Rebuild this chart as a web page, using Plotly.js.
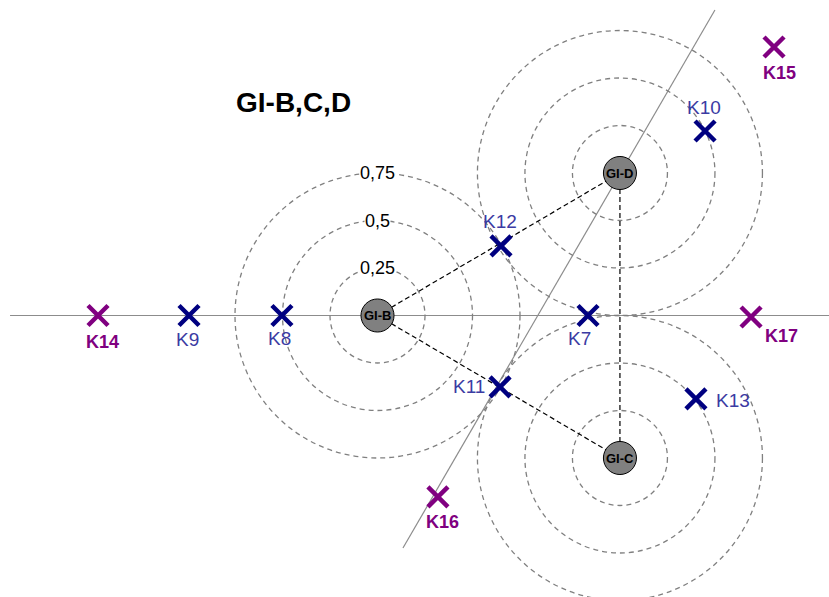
<!DOCTYPE html>
<html>
<head>
<meta charset="utf-8">
<script src="https://cdn.plot.ly/plotly-3.0.1.min.js"></script>
<style>html,body{margin:0;padding:0;background:#fff;}#chart{width:829px;height:597px;}</style>
</head>
<body>
<div id="chart"></div>
<script>
// ---- data (units: GI-B at origin) ----
const nodeNames = ['GI-B', 'GI-C', 'GI-D'];
const nodeX = [0, 1.276, 1.276];
const nodeY = [0, -0.75, 0.75];
const ringRadii = [0.25, 0.5, 0.75];
const ringLabels = ['0,25', '0,5', '0,75'];

// connector pairs (indices into node arrays)
const linkFrom = [0, 0, 2];
const linkTo = [2, 1, 1];

// internal points (navy)
const innerNames = ['K7', 'K8', 'K9', 'K10', 'K11', 'K12', 'K13'];
const innerX = [1.108, -0.503, -0.992, 1.724, 0.645, 0.650, 1.676];
const innerY = [0.0, 0.0, 0.0, 0.971, -0.376, 0.366, -0.439];

// outer points (purple)
const outerNames = ['K14', 'K15', 'K16', 'K17'];
const outerX = [-1.471, 2.087, 0.318, 1.966];
const outerY = [0.0, 1.413, -0.955, -0.008];

// reference lines
const axisLineX = [-1.934, 2.40];
const axisLineY = [0, 0];
const slantLineX = [0.134, 1.776];
const slantLineY = [-1.224, 1.608];

const titleText = 'GI-B,C,D';

// ---- label offsets (px) ----
const innerLabelShift = {
  'K7': [-9, -23], 'K8': [-2, -23], 'K9': [-2, -24], 'K10': [-1, 24],
  'K11': [-31, 0], 'K12': [-1, 24], 'K13': [37, -2]
};
const outerLabelShift = {
  'K14': [4, -26], 'K15': [5, -26], 'K16': [5, -25], 'K17': [30, -19]
};

const shapes = [];
// gray reference lines
shapes.push({type: 'line', xref: 'x', yref: 'y', x0: axisLineX[0], y0: axisLineY[0], x1: axisLineX[1], y1: axisLineY[1],
  line: {color: '#8c8c8c', width: 1.2}, layer: 'below'});
shapes.push({type: 'line', xref: 'x', yref: 'y', x0: slantLineX[0], y0: slantLineY[0], x1: slantLineX[1], y1: slantLineY[1],
  line: {color: '#8c8c8c', width: 1.2}, layer: 'below'});
// dashed rings
for (let n = 0; n < nodeNames.length; n++) {
  for (const r of ringRadii) {
    shapes.push({type: 'circle', xref: 'x', yref: 'y',
      x0: nodeX[n] - r, x1: nodeX[n] + r, y0: nodeY[n] - r, y1: nodeY[n] + r,
      line: {color: '#808080', width: 1.3, dash: '5px,4px'}, layer: 'below'});
  }
}
// black dashed connectors
for (let i = 0; i < linkFrom.length; i++) {
  shapes.push({type: 'line', xref: 'x', yref: 'y',
    x0: nodeX[linkFrom[i]], y0: nodeY[linkFrom[i]], x1: nodeX[linkTo[i]], y1: nodeY[linkTo[i]],
    line: {color: '#000', width: 1.2, dash: '5px,3px'}, layer: 'below'});
}
// node discs
const nodeR = 0.087;
for (let n = 0; n < nodeNames.length; n++) {
  shapes.push({type: 'circle', xref: 'x', yref: 'y',
    x0: nodeX[n] - nodeR, x1: nodeX[n] + nodeR, y0: nodeY[n] - nodeR, y1: nodeY[n] + nodeR,
    fillcolor: '#808080', line: {color: '#000', width: 1}, layer: 'below'});
}

const annotations = [];
const FONT = 'Liberation Sans, Arial, sans-serif';
annotations.push({x: -0.44, y: 1.12, xref: 'x', yref: 'y', text: '<b>' + titleText + '</b>', showarrow: false,
  font: {family: FONT, size: 28, color: '#000'}});
for (let n = 0; n < nodeNames.length; n++) {
  annotations.push({x: nodeX[n], y: nodeY[n], xref: 'x', yref: 'y', text: '<b>' + nodeNames[n] + '</b>', showarrow: false,
    font: {family: FONT, size: 13, color: '#000'}});
}
for (let i = 0; i < ringRadii.length; i++) {
  annotations.push({x: nodeX[0], y: nodeY[0] + ringRadii[i], xref: 'x', yref: 'y', text: ringLabels[i], showarrow: false,
    bgcolor: '#ffffff', borderpad: 0, font: {family: FONT, size: 18, color: '#000'}});
}
for (let i = 0; i < innerNames.length; i++) {
  const s = innerLabelShift[innerNames[i]];
  annotations.push({x: innerX[i], y: innerY[i], xref: 'x', yref: 'y', text: innerNames[i], showarrow: false,
    xshift: s[0], yshift: s[1], font: {family: FONT, size: 19, color: '#3b3ba3'}});
}
for (let i = 0; i < outerNames.length; i++) {
  const s = outerLabelShift[outerNames[i]];
  annotations.push({x: outerX[i], y: outerY[i], xref: 'x', yref: 'y', text: '<b>' + outerNames[i] + '</b>', showarrow: false,
    xshift: s[0], yshift: s[1], font: {family: FONT, size: 18, color: '#800080'}});
}

const traces = [
  {x: innerX, y: innerY, type: 'scatter', mode: 'markers', hoverinfo: 'skip',
    marker: {symbol: 'x-thin', size: 20, line: {color: '#000080', width: 4.5}}},
  {x: outerX, y: outerY, type: 'scatter', mode: 'markers', hoverinfo: 'skip',
    marker: {symbol: 'x-thin', size: 20, line: {color: '#800080', width: 4.5}}}
];

const layout = {
  width: 829, height: 597,
  margin: {l: 0, r: 0, t: 0, b: 0},
  paper_bgcolor: '#ffffff', plot_bgcolor: '#ffffff',
  showlegend: false,
  xaxis: {range: [-1.98684, 2.37632], visible: false, showgrid: false, zeroline: false, fixedrange: true},
  yaxis: {range: [-1.48158, 1.66053], visible: false, showgrid: false, zeroline: false, fixedrange: true},
  shapes: shapes,
  annotations: annotations
};

Plotly.newPlot('chart', traces, layout, {staticPlot: true, displayModeBar: false});
</script>
</body>
</html>
